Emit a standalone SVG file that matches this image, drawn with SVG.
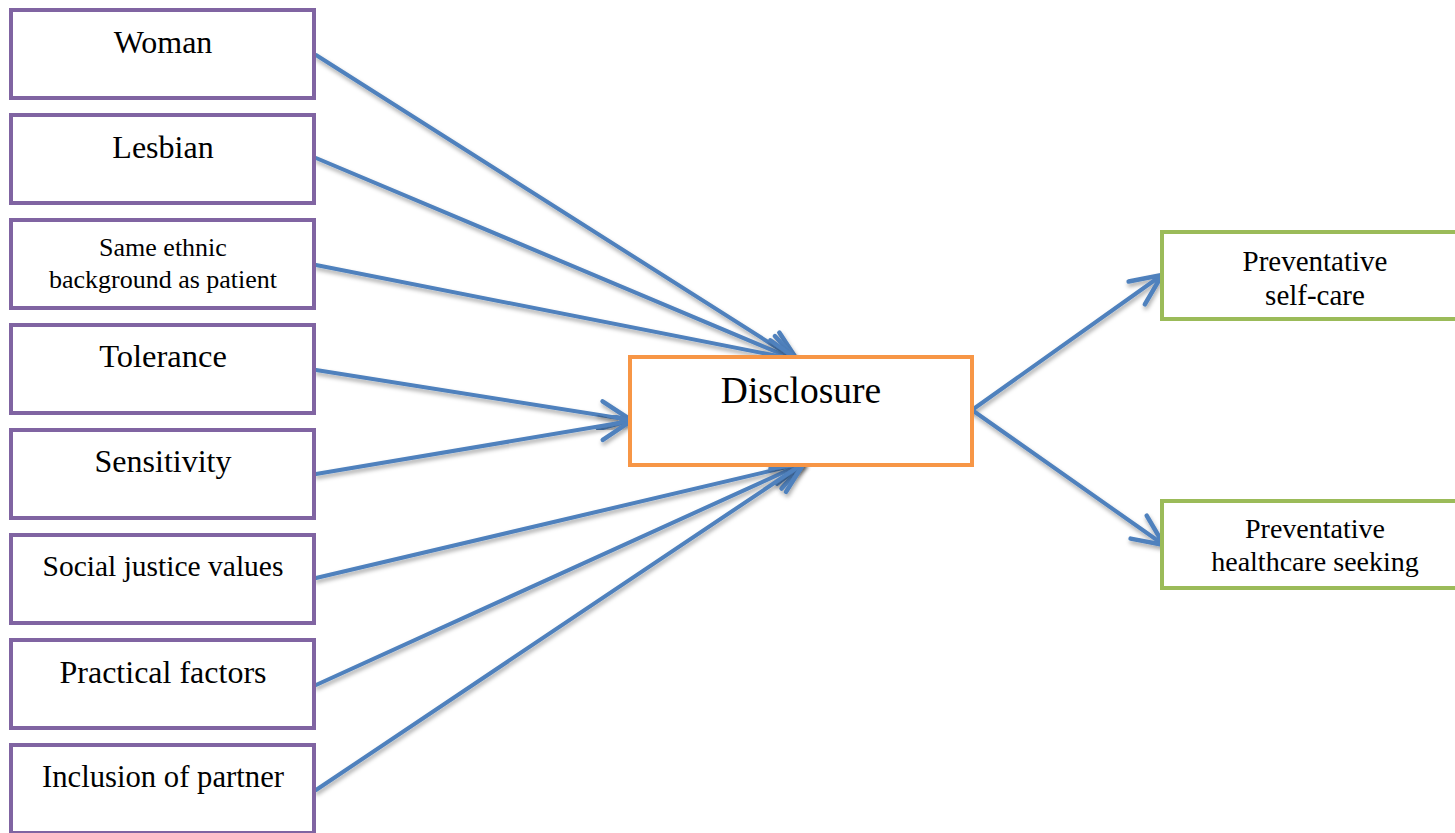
<svg xmlns="http://www.w3.org/2000/svg" width="1455" height="833" viewBox="0 0 1455 833">
<style>
.p{fill:#fff;stroke:#8064A2;stroke-width:4}
.o{fill:#fff;stroke:#F79646;stroke-width:4}
.g{fill:#fff;stroke:#9BBB59;stroke-width:4}
text{font-family:"Liberation Serif","Times New Roman",serif;fill:#000;text-anchor:middle}
.c line{stroke:#4F81BD;stroke-width:4;stroke-linecap:round;marker-end:url(#ah);filter:url(#sh)}
</style>
<defs>
<marker id="ah" markerUnits="userSpaceOnUse" viewBox="-34 -16 38 32" refX="0" refY="0" markerWidth="38" markerHeight="32" orient="auto" overflow="visible">
<path d="M-31 -14 L0 0 L-31 14" fill="none" stroke="#4F81BD" stroke-width="4.5" stroke-linecap="round" stroke-linejoin="round"/>
</marker>
<filter id="sh" x="-10%" y="-10%" width="120%" height="130%">
<feDropShadow dx="1" dy="3" stdDeviation="2" flood-color="#000" flood-opacity="0.35"/>
</filter>
</defs>
<rect width="1455" height="833" fill="#fff"/>
<g class="c" id="connectors">
<line x1="316" y1="55" x2="798" y2="361"/>
<line x1="316" y1="158" x2="798" y2="361"/>
<line x1="316" y1="265" x2="798" y2="360"/>
<line x1="316" y1="370" x2="631" y2="420"/>
<line x1="316" y1="474" x2="631" y2="421"/>
<line x1="316" y1="578" x2="804" y2="463"/>
<line x1="316" y1="685" x2="804" y2="463"/>
<line x1="316" y1="790" x2="804" y2="463"/>
<line x1="972" y1="410" x2="1162" y2="275"/>
<line x1="972" y1="410" x2="1164" y2="545"/>
</g>
<g id="woman"><rect class="p" x="11" y="10" width="303" height="88"/><text x="163" y="53" font-size="32">Woman</text></g>
<g id="lesbian"><rect class="p" x="11" y="115" width="303" height="88"/><text x="163" y="158" font-size="32">Lesbian</text></g>
<g id="ethnic"><rect class="p" x="11" y="220" width="303" height="88"/><text x="163" y="256" font-size="26">Same ethnic</text><text x="163" y="288" font-size="26">background as patient</text></g>
<g id="tolerance"><rect class="p" x="11" y="325" width="303" height="88"/><text x="163" y="367" font-size="32.5">Tolerance</text></g>
<g id="sensitivity"><rect class="p" x="11" y="430" width="303" height="88"/><text x="163" y="472" font-size="32">Sensitivity</text></g>
<g id="social"><rect class="p" x="11" y="535" width="303" height="88"/><text x="163" y="576" font-size="29.5">Social justice values</text></g>
<g id="practical"><rect class="p" x="11" y="640" width="303" height="88"/><text x="163" y="683" font-size="32">Practical factors</text></g>
<g id="inclusion"><rect class="p" x="11" y="745" width="303" height="88"/><text x="163" y="787" font-size="30.7">Inclusion of partner</text></g>
<g id="disclosure"><rect class="o" x="630" y="357" width="342" height="108"/><text x="801" y="403" font-size="37.5">Disclosure</text></g>
<g id="selfcare"><rect class="g" x="1162" y="232" width="300" height="87"/><text x="1315" y="271" font-size="29">Preventative</text><text x="1315" y="305" font-size="29">self-care</text></g>
<g id="healthcare"><rect class="g" x="1162" y="501" width="300" height="87"/><text x="1315" y="538" font-size="28">Preventative</text><text x="1315" y="571" font-size="28">healthcare seeking</text></g>
</svg>
